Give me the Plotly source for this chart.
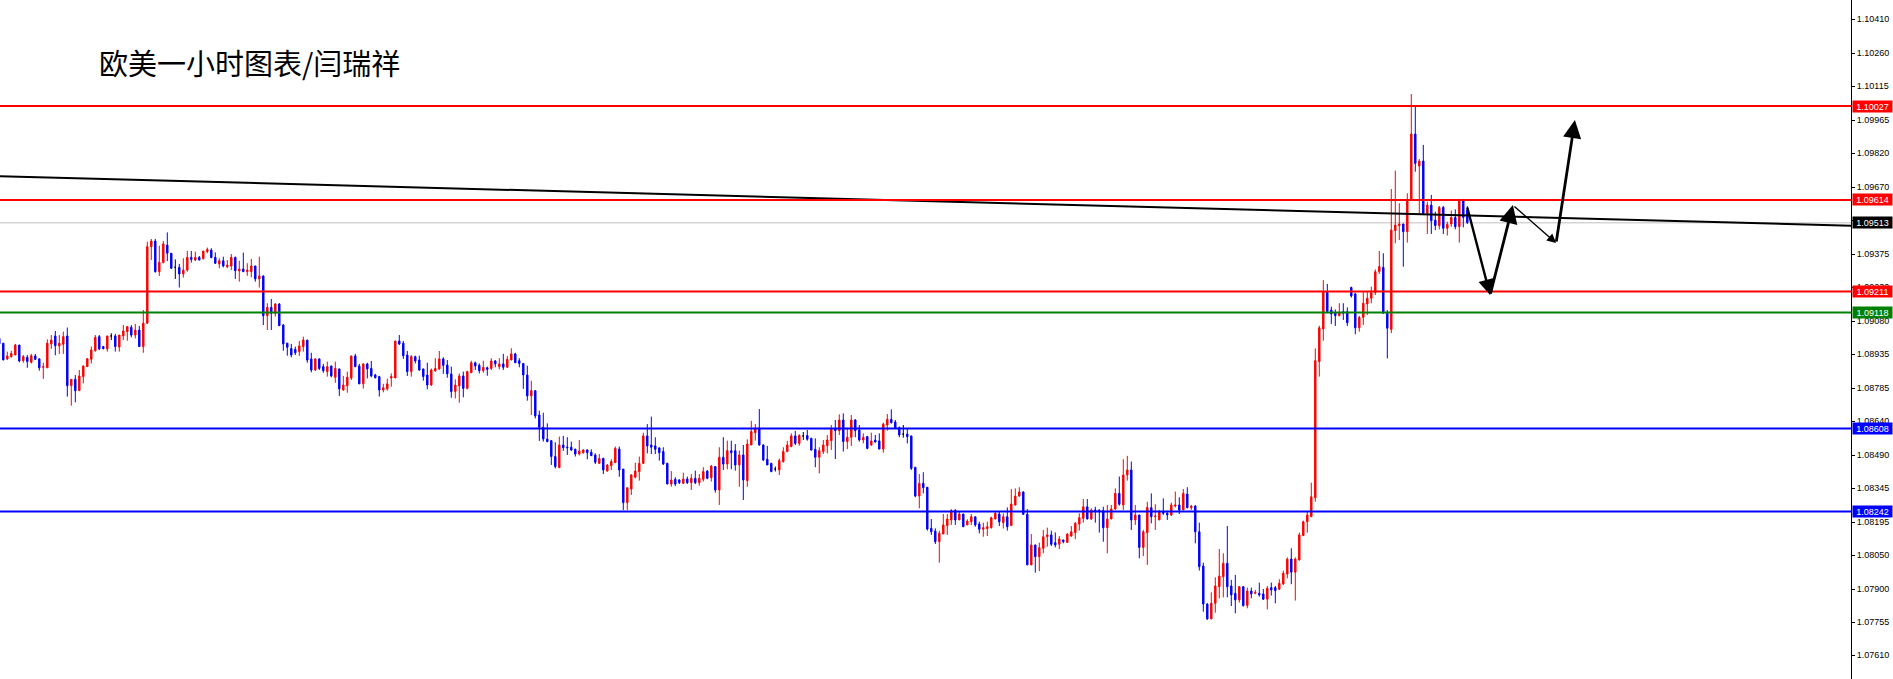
import plotly.graph_objects as go

# ---- EURUSD 1H candles (prices in points, 1e-5) ----
open_pts = [109004,108983,108914,108924,108931,108975,108906,108921,108899,108927,
108914,108877,108875,108980,109015,108971,108978,109015,108796,108824,
108774,108836,108880,108912,108950,109012,108968,108958,109015,109015,
108966,109015,109034,109053,109019,109041,108968,109071,109408,109433,
109298,109338,109415,109379,109317,109317,109288,109305,109361,109349,
109361,109355,109386,109393,109361,109332,109346,109320,109323,109361,
109301,109310,109298,109298,109323,109266,109279,109104,109141,109115,
109156,109063,108983,108960,108956,108946,108968,108997,108914,108865,
108914,108880,108858,108883,108833,108870,108777,108796,108830,108927,
108883,108804,108892,108872,108843,108836,108777,108782,108830,108830,
108993,108983,108931,108858,108924,108909,108870,108843,108799,108861,
108870,108914,108887,108848,108770,108795,108839,108784,108853,108897,
108886,108862,108875,108872,108905,108880,108892,108877,108909,108936,
108906,108894,108843,108751,108774,108667,108613,108561,108554,108484,
108435,108535,108526,108525,108516,108495,108501,108513,108503,108491,
108454,108476,108420,108444,108457,108517,108429,108281,108341,108393,
108418,108454,108575,108535,108531,108522,108506,108454,108363,108384,
108381,108366,108385,108369,108388,108369,108384,108420,108391,108440,
108337,108481,108451,108510,108510,108447,108491,108378,108535,108589,
108608,108535,108472,108454,108429,108425,108462,108506,108528,108575,
108542,108575,108577,108564,108516,108481,108506,108532,108554,108608,
108598,108645,108550,108569,108645,108601,108557,108572,108535,108557,
108553,108517,108623,108648,108636,108611,108583,108583,108575,108437,
108310,108366,108349,108168,108156,108109,108143,108180,108205,108246,
108205,108231,108183,108197,108219,108187,108164,108167,108171,108209,
108231,108193,108219,108180,108271,108310,108328,108230,108007,108095,
108043,108080,108131,108139,108105,108098,108117,108106,108134,108149,
108187,108212,108263,108209,108249,108249,108246,108171,108209,108253,
108322,108271,108403,108425,108205,108227,108084,108149,108259,108219,
108205,108241,108234,108227,108266,108271,108249,108319,108259,108266,
108153,108002,107835,107769,107838,107911,107955,108014,107914,107882,
107853,107911,107828,107892,107882,107882,107879,107856,107907,107907,
107900,107923,107967,108033,107975,108029,108136,108197,108219,108303,
108902,109046,109210,109129,109118,109104,109122,109122,109228,109200,
109051,109097,109156,109181,109206,109298,109317,109115,109044,109479,
109501,109508,109474,109614,109904,109763,109785,109555,109591,109525,
109501,109581,109489,109508,109537,109496,109616,109570]

high_pts = [109007,108983,108946,108950,108980,108975,108931,108931,108936,108936,
108916,108897,109000,109019,109037,109019,109034,109052,108824,108843,
108865,108883,108915,108968,109019,109019,108971,109015,109027,109024,
109019,109063,109059,109063,109068,109059,109129,109430,109442,109442,
109412,109433,109471,109379,109352,109332,109357,109390,109389,109386,
109367,109389,109404,109401,109383,109357,109364,109349,109376,109364,
109346,109382,109335,109354,109324,109364,109282,109159,109178,109159,
109159,109068,108985,108980,108968,108993,109012,108997,108941,108916,
108916,108892,108902,108883,108902,108870,108839,108858,108927,108936,
108892,108894,108897,108905,108848,108839,108804,108827,108850,108993,
109019,108993,108949,108931,108928,108928,108870,108897,108872,108917,
108949,108921,108909,108880,108824,108850,108858,108862,108906,108902,
108894,108906,108880,108917,108909,108917,108936,108927,108961,108941,
108917,108894,108884,108818,108777,108686,108677,108630,108557,108547,
108572,108575,108569,108550,108519,108557,108516,108516,108516,108498,
108495,108479,108451,108472,108528,108528,108429,108347,108407,108457,
108484,108589,108627,108660,108569,108525,108525,108457,108420,108393,
108384,108413,108396,108407,108422,108407,108437,108425,108447,108442,
108525,108569,108554,108554,108539,108510,108535,108560,108641,108627,
108693,108538,108531,108457,108440,108476,108525,108553,108586,108597,
108582,108592,108601,108567,108564,108525,108557,108579,108623,108645,
108670,108674,108611,108667,108649,108623,108586,108575,108589,108579,
108586,108633,108671,108692,108645,108616,108623,108608,108575,108437,
108407,108415,108349,108209,108168,108158,108231,108231,108253,108253,
108241,108231,108208,108231,108219,108197,108193,108197,108219,108241,
108241,108234,108260,108341,108344,108349,108331,108253,108143,108095,
108105,108161,108171,108158,108150,108134,108117,108146,108178,108196,
108234,108297,108297,108256,108263,108249,108263,108271,108271,108344,
108396,108472,108487,108462,108271,108227,108161,108285,108322,108274,
108249,108300,108246,108281,108330,108305,108341,108349,108271,108271,
108193,108017,107838,107886,107952,108077,108058,108178,107941,107963,
107914,107914,107907,107907,107897,107929,107901,107914,107929,107914,
107944,107982,108040,108080,108040,108149,108202,108241,108369,108960,
109060,109261,109244,109144,109132,109159,109159,109141,109232,109206,
109103,109210,109210,109232,109308,109389,109379,109129,109662,109743,
109599,109508,109643,110080,110027,109794,109856,109606,109636,109562,
109587,109587,109518,109567,109572,109616,109616,109587]

low_pts = [108968,108909,108909,108919,108931,108899,108897,108875,108894,108909,
108862,108826,108875,108958,108930,108936,108936,108748,108708,108723,
108774,108806,108880,108894,108946,108953,108956,108946,108997,108946,
108946,108997,108994,109009,109004,108968,108941,109068,109349,109294,
109279,109335,109345,109310,109266,109228,109272,109298,109338,109345,
109349,109352,109379,109357,109332,109313,109317,109313,109305,109266,
109254,109298,109280,109273,109254,109228,109063,109041,109041,109100,
109060,108950,108928,108921,108931,108927,108946,108897,108855,108862,
108865,108853,108836,108833,108809,108751,108774,108765,108821,108877,
108804,108783,108828,108833,108828,108748,108767,108774,108792,108830,
108975,108914,108839,108836,108894,108862,108818,108780,108795,108858,
108865,108848,108831,108743,108740,108721,108745,108780,108853,108865,
108850,108853,108840,108865,108877,108868,108865,108877,108909,108897,
108877,108782,108730,108667,108652,108553,108550,108547,108447,108432,
108435,108509,108491,108509,108484,108489,108497,108472,108487,108451,
108451,108407,108418,108425,108457,108395,108249,108249,108315,108388,
108378,108451,108498,108495,108495,108466,108447,108363,108351,108354,
108363,108363,108363,108337,108363,108356,108374,108384,108374,108325,
108271,108425,108428,108428,108422,108351,108293,108351,108535,108554,
108532,108464,108447,108415,108418,108403,108457,108503,108525,108535,
108532,108557,108554,108510,108437,108410,108495,108498,108513,108473,
108579,108506,108517,108531,108569,108550,108542,108516,108531,108545,
108516,108501,108598,108630,108605,108569,108567,108542,108425,108305,
108256,108322,108158,108139,108099,108017,108143,108139,108183,108183,
108205,108175,108183,108183,108175,108146,108131,108134,108167,108209,
108178,108167,108158,108178,108268,108307,108227,108007,108007,107973,
107980,108058,108087,108090,108084,108076,108102,108105,108131,108120,
108158,108193,108208,108205,108193,108149,108109,108058,108209,108249,
108268,108249,108378,108161,108183,108036,108046,108007,108190,108161,
108205,108227,108205,108222,108260,108231,108249,108256,108249,108102,
107982,107801,107765,107769,107797,107860,107864,107864,107826,107794,
107841,107823,107816,107860,107878,107867,107853,107811,107872,107838,
107897,107919,107948,107922,107850,108026,108134,108149,108219,108285,
108836,108994,109115,109068,109059,109103,109085,109059,109184,109022,
109034,109063,109107,109159,109195,109288,109115,108916,109027,109423,
109437,109320,109426,109611,109738,109555,109555,109464,109464,109481,
109484,109464,109457,109496,109484,109426,109493,109508]

close_pts = [108980,108909,108927,108938,108975,108905,108924,108902,108928,108912,
108875,108880,108983,108997,108972,108983,109012,108796,108824,108774,
108839,108883,108915,108953,109009,108958,108959,109015,109015,108968,
109019,109037,109056,109019,109041,108968,109071,109408,109433,109298,
109339,109420,109379,109313,109317,109288,109305,109361,109352,109361,
109349,109389,109396,109360,109335,109346,109323,109327,109361,109302,
109310,109298,109305,109323,109266,109279,109104,109141,109115,109156,
109060,108980,108965,108931,108941,108971,108997,108909,108865,108914,
108872,108862,108880,108839,108872,108782,108799,108833,108927,108880,
108804,108892,108870,108839,108831,108777,108787,108804,108836,108993,
108980,108928,108858,108924,108905,108865,108836,108799,108865,108872,
108914,108886,108848,108770,108799,108839,108784,108858,108897,108883,
108862,108877,108868,108905,108892,108892,108877,108912,108936,108897,
108894,108843,108751,108774,108663,108613,108561,108550,108484,108440,
108535,108523,108523,108513,108495,108509,108513,108501,108488,108459,
108476,108425,108447,108462,108520,108425,108281,108347,108403,108420,
108454,108575,108531,108525,108516,108501,108451,108363,108381,108363,
108369,108385,108369,108388,108369,108388,108418,108388,108442,108337,
108481,108451,108510,108501,108447,108491,108381,108539,108594,108608,
108535,108469,108447,108418,108429,108466,108506,108535,108575,108542,
108577,108575,108560,108513,108481,108510,108535,108557,108608,108598,
108645,108550,108569,108645,108598,108557,108569,108520,108553,108548,
108517,108627,108648,108633,108608,108579,108583,108572,108432,108310,
108366,108347,108165,108153,108109,108146,108183,108209,108246,108205,
108231,108175,108200,108219,108183,108164,108171,108175,108215,108234,
108197,108219,108175,108275,108310,108328,108230,108007,108095,108043,
108083,108131,108139,108098,108095,108121,108109,108143,108153,108190,
108215,108263,108209,108249,108244,108247,108171,108209,108253,108322,
108274,108403,108425,108205,108227,108084,108153,108260,108219,108222,
108241,108234,108227,108271,108271,108249,108322,108259,108266,108153,
107999,107835,107769,107838,107914,107958,108014,107911,107875,107853,
107911,107828,107892,107879,107886,107875,107856,107904,107897,107894,
107926,107970,108032,107975,108033,108139,108197,108227,108307,108906,
109051,109210,109122,109112,109104,109118,109115,109073,109191,109051,
109097,109159,109181,109206,109298,109320,109115,109049,109481,109503,
109508,109474,109616,109904,109775,109785,109555,109591,109522,109501,
109581,109489,109506,109537,109496,109616,109537,109514]

# ---- horizontal levels (support / resistance) ----
level_prices = [1.10027, 1.09614, 1.09513, 1.09211, 1.09118, 1.08608, 1.08242]
level_colors = ["#ff0000", "#ff0000", "#c0c0c0", "#ff0000", "#008000", "#0000ff", "#0000ff"]
level_label_bg = ["#ff0000", "#ff0000", "#000000", "#ff0000", "#008000", "#0000ff", "#0000ff"]

# ---- price axis ticks ----
axis_ticks = [1.10410, 1.10260, 1.10115, 1.09965, 1.09820, 1.09670, 1.09525, 1.09375,
              1.09230, 1.09080, 1.08935, 1.08785, 1.08640, 1.08490, 1.08345, 1.08195,
              1.08050, 1.07900, 1.07755, 1.07610]

# ---- trend line (bar index, price) ----
trend_x = [0, 463]
trend_price = [1.09718, 1.09500]

# ---- projected path arrows (bar index, price) ----
path_x = [366.9, 372.7, 378.4, 389.2, 393.9]
path_price = [1.09587, 1.09195, 1.09591, 1.09424, 1.09966]
path_widths = [2.4, 2.8, 1.4, 2.8]

title_text = "欧美一小时图表/闫瑞祥"

# ---------------------------------------------------------------
O = [v / 1e5 for v in open_pts]
H = [v / 1e5 for v in high_pts]
L = [v / 1e5 for v in low_pts]
C = [v / 1e5 for v in close_pts]
X = list(range(len(O)))

norm = [i for i in X if open_pts[i] != close_pts[i]]
doji = [i for i in X if open_pts[i] == close_pts[i]]

fig = go.Figure()
fig.add_trace(go.Candlestick(
    x=[X[i] for i in norm], open=[O[i] for i in norm], high=[H[i] for i in norm],
    low=[L[i] for i in norm], close=[C[i] for i in norm],
    increasing=dict(line=dict(color="#ff0000", width=1), fillcolor="#ff0000"),
    decreasing=dict(line=dict(color="#0000ff", width=1), fillcolor="#0000ff"),
    whiskerwidth=0, hoverinfo="skip", showlegend=False))
fig.add_trace(go.Candlestick(
    x=[X[i] for i in doji], open=[O[i] for i in doji], high=[H[i] for i in doji],
    low=[L[i] for i in doji], close=[C[i] for i in doji],
    increasing=dict(line=dict(color="#000000", width=1), fillcolor="#000000"),
    decreasing=dict(line=dict(color="#000000", width=1), fillcolor="#000000"),
    whiskerwidth=0, hoverinfo="skip", showlegend=False))

fig.add_trace(go.Scatter(x=trend_x, y=trend_price, mode="lines",
                         line=dict(color="#000000", width=2), hoverinfo="skip",
                         showlegend=False))

shapes = []
for p, c in zip(level_prices, level_colors):
    shapes.append(dict(type="line", xref="paper", x0=0, x1=1, yref="y", y0=p, y1=p,
                       line=dict(color=c, width=1 if c == "#c0c0c0" else 2),
                       layer="above" if c != "#c0c0c0" else "below"))

annotations = []
for p, bg in zip(level_prices, level_label_bg):
    annotations.append(dict(x=1, xref="paper", xanchor="left", xshift=1,
                            y=p, yref="y", yanchor="middle",
                            text=f"{p:.5f}", showarrow=False, bgcolor=bg,
                            font=dict(color="#ffffff", size=9,
                                      family="Liberation Sans, Arial, sans-serif"),
                            width=37, height=9, borderpad=1, align="center"))

for k in range(len(path_x) - 1):
    annotations.append(dict(x=path_x[k + 1], y=path_price[k + 1], xref="x", yref="y",
                            ax=path_x[k], ay=path_price[k], axref="x", ayref="y",
                            text="", showarrow=True, arrowhead=2, arrowsize=1.3,
                            arrowwidth=path_widths[k], arrowcolor="#000000",
                            standoff=0, startstandoff=0))

annotations.append(dict(x=97 / 1851, xref="paper", xanchor="left",
                        y=1 - 62 / 679, yref="paper", yanchor="middle",
                        text=title_text, showarrow=False,
                        font=dict(size=29, color="#000000",
                                  family="Noto Sans CJK SC, sans-serif")))

fig.update_layout(
    width=1893, height=679,
    margin=dict(l=0, r=42, t=0, b=0, pad=0),
    paper_bgcolor="#ffffff", plot_bgcolor="#ffffff",
    showlegend=False, boxmode="overlay", boxgap=0.5,
    xaxis=dict(range=[0.175, 462.925], visible=False,
               rangeslider=dict(visible=False), fixedrange=True),
    yaxis=dict(range=[1.075047, 1.10494], side="right", showgrid=False,
               zeroline=False, showline=True, linecolor="#000000", linewidth=1,
               ticks="outside", ticklen=3, tickcolor="#000000",
               tickvals=axis_ticks, tickformat=".5f",
               tickfont=dict(family="Liberation Sans, Arial, sans-serif",
                             size=9, color="#000000"),
               fixedrange=True),
    shapes=shapes, annotations=annotations,
)

fig.write_html("out.html", config={"displayModeBar": False},
               post_script="document.body.style.margin='0';document.body.style.overflow='hidden';")
